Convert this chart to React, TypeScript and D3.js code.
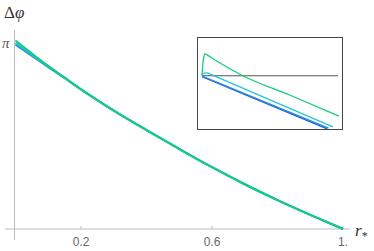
import { useEffect, useRef } from "react";
import * as d3 from "d3";

// main curves: r* vs delta phi
const rValues = [0, 0.05, 0.1, 0.15, 0.2, 0.3, 0.4, 0.5, 0.6, 0.7, 0.8, 0.9, 1.0];
const blueMain = [3.13, 2.94, 2.75, 2.56, 2.37, 2.01, 1.68, 1.36, 1.05, 0.76, 0.49, 0.24, 0];
const cyanMain = [3.16, 2.96, 2.76, 2.57, 2.37, 2.01, 1.68, 1.36, 1.05, 0.76, 0.49, 0.24, 0];
const greenMain = [3.2, 2.98, 2.77, 2.57, 2.37, 2.01, 1.68, 1.36, 1.05, 0.76, 0.49, 0.24, 0];

const xTicks = [0.2, 0.6, 1.0];
const xTickLabels = ["0.2", "0.6", "1."];

// inset: zoom near r* = 0, offsets from pi
const insetGreen: [number, number][] = [
  [0, 0], [0.0002, 0.03], [0.0005, 0.055], [0.0009, 0.067], [0.0015, 0.064],
  [0.0024, 0.058], [0.0053, 0.039], [0.012, 0], [0.0259, -0.06], [0.0403, -0.124],
];
const insetCyan: [number, number][] = [
  [0, 0], [0.0006, 0.008], [0.0015, 0.009], [0.0026, 0.004], [0.02, -0.074], [0.0385, -0.157],
];
const insetBlue: [number, number][] = [[0, -0.001], [0.0372, -0.161]];
const insetDarkBlue: [number, number][] = [[0, -0.003], [0.0368, -0.163]];
const insetRef: [number, number][] = [[0, 0], [0.04, 0]];

function App() {
  const svgRef = useRef<SVGSVGElement>(null);

  useEffect(() => {
    const svgElement = svgRef.current;
    if (!svgElement) return;
    const svg = d3.select(svgElement);

    const x = d3.scaleLinear().domain([0, 1]).range([15.5, 343]);
    const y = d3.scaleLinear().domain([0, Math.PI]).range([229, 44]);

    // axes
    svg.append("line").attr("x1", 5).attr("x2", 350).attr("y1", 229).attr("y2", 229)
      .attr("stroke", "#bbb").attr("stroke-width", 1);
    svg.append("line").attr("x1", 14.5).attr("x2", 14.5).attr("y1", 30).attr("y2", 240)
      .attr("stroke", "#bbb").attr("stroke-width", 1);

    svg.selectAll(".xtick").data(xTicks).enter().append("line")
      .attr("x1", (d) => x(d)).attr("x2", (d) => x(d))
      .attr("y1", 226).attr("y2", 229)
      .attr("stroke", "#bbb");
    svg.selectAll(".xlabel").data(xTicks).enter().append("text")
      .attr("x", (d) => x(d)).attr("y", 246)
      .attr("text-anchor", "middle")
      .style("font-family", "Liberation Sans, Arial, sans-serif")
      .style("font-size", "12px")
      .style("fill", "#666")
      .text((_, i) => xTickLabels[i]);

    svg.append("line").attr("x1", 14.5).attr("x2", 17.5).attr("y1", y(Math.PI)).attr("y2", y(Math.PI))
      .attr("stroke", "#bbb");
    svg.append("text").attr("x", 2).attr("y", y(Math.PI) + 4)
      .style("font-family", "Liberation Serif, serif").style("font-style", "italic")
      .style("font-size", "15px").style("fill", "#555").text("π");

    svg.append("text").attr("x", 4).attr("y", 18)
      .style("font-family", "Liberation Serif, serif")
      .style("font-size", "17px").style("fill", "#333")
      .text("Δ")
      .append("tspan").style("font-style", "italic").text("φ");

    const rLabel = svg.append("text").attr("x", 355).attr("y", 236)
      .style("font-family", "Liberation Serif, serif").style("font-style", "italic")
      .style("font-size", "17px").style("fill", "#333").text("r");
    rLabel.append("tspan").attr("dy", 4).style("font-size", "12px").style("font-style", "normal").text("*");

    const line = d3.line<number>().x((_, i) => x(rValues[i])).y((d) => y(d)).curve(d3.curveMonotoneX);
    const mains: [number[], string][] = [
      [blueMain, "#2d86e0"],
      [cyanMain, "#22c4dc"],
      [greenMain, "#17cc7a"],
    ];
    svg.selectAll(".main").data(mains).enter().append("path")
      .attr("d", (d) => line(d[0]))
      .attr("fill", "none")
      .attr("stroke", (d) => d[1])
      .attr("stroke-width", 2);

    // inset
    const ix = d3.scaleLinear().domain([0, 0.04]).range([202, 338]);
    const iy = d3.scaleLinear().domain([-0.1667, 0.119]).range([130, 37]);
    const inset = svg.append("g");
    inset.append("rect").attr("x", 197.5).attr("y", 37.5).attr("width", 145).attr("height", 92)
      .attr("fill", "white").attr("stroke", "#444").attr("stroke-width", 1);
    const iline = d3.line<[number, number]>().x((d) => ix(d[0])).y((d) => iy(d[1])).curve(d3.curveMonotoneX);
    const insets: [[number, number][], string, number][] = [
      [insetRef, "#555", 1.2],
      [insetDarkBlue, "#1f5fd0", 1.3],
      [insetBlue, "#2d86e0", 1.3],
      [insetCyan, "#22c4dc", 1.3],
      [insetGreen, "#17cc7a", 1.3],
    ];
    inset.selectAll(".iline").data(insets).enter().append("path")
      .attr("d", (d) => iline(d[0]))
      .attr("fill", "none")
      .attr("stroke", (d) => d[1])
      .attr("stroke-width", (d) => d[2]);

    return () => {
      d3.select(svgElement).selectAll("*").remove();
    };
  }, []);

  return (
    <svg ref={svgRef} width={374} height={251}
      style={{ position: "absolute", left: 0, top: 0, background: "white" }} />
  );
}

export default App;
